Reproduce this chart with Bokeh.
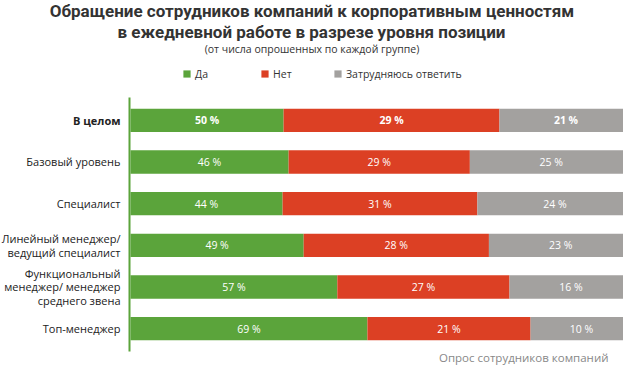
from bokeh.plotting import figure
from bokeh.models import ColumnDataSource, Range1d, Legend, LegendItem
from bokeh.core.properties import value
from bokeh.embed import file_html
from bokeh.resources import INLINE

# ---------------- data ----------------
categories = ["В целом", "Базовый уровень", "Специалист",
              "Линейный менеджер/\nведущий специалист",
              "Функциональный\nменеджер/ менеджер\nсреднего звена",
              "Топ-менеджер"]
series = ["Да", "Нет", "Затрудняюсь ответить"]
yes_pct = [50, 46, 44, 49, 57, 69]
no_pct = [29, 29, 31, 28, 27, 21]
unsure_pct = [21, 25, 24, 23, 16, 10]
# segment lengths as drawn in the source picture (not proportional to the labels)
yes_len = [30.5, 31.5, 30.3, 34.5, 41.2, 47.2]
no_len = [43.0, 36.1, 38.8, 36.9, 34.3, 32.5]
unsure_len = [26.5, 32.4, 30.9, 28.6, 24.5, 20.3]

title1 = "Обращение сотрудников компаний к корпоративным ценностям"
title2 = "в ежедневной работе в разрезе уровня позиции"
subtitle = "(от числа опрошенных по каждой группе)"
source_note = "Опрос сотрудников компаний"

colors = ["#5ba43b", "#dc4024", "#a3a19f"]
FONT = "Open Sans"
TFONT = "Roboto"

W, H = 623, 365
PXU = 5.02      # pixels per bar unit
X0 = 130        # pixel column of bar start
ROW = 41.67     # pixels per row
Y0 = 119.8      # pixel row of first category centre


def dx(px):
    return (px - X0) / PXU


def dy(py):
    return (py - Y0) / ROW


# ---------------- figure ----------------
p = figure(width=W, height=H, output_backend="svg", toolbar_location=None,
           x_range=Range1d(dx(0), dx(W)), y_range=Range1d(dy(H), dy(0)),
           min_border=0)
p.outline_line_color = None
p.xgrid.visible = False
p.ygrid.visible = False
p.xaxis.visible = False
p.yaxis.visible = False

rows = list(range(len(categories)))
right_yes = list(yes_len)
right_no = [a + b for a, b in zip(yes_len, no_len)]
right_un = [a + b + c for a, b, c in zip(yes_len, no_len, unsure_len)]

src = ColumnDataSource(dict(y=rows, z=[0] * len(rows), ry=right_yes,
                            rn=right_no, ru=right_un))
BH = 0.56
r_yes = p.hbar(y="y", left="z", right="ry", height=BH, source=src,
               fill_color=colors[0], line_color=None)
r_no = p.hbar(y="y", left="ry", right="rn", height=BH, source=src,
              fill_color=colors[1], line_color=None)
r_un = p.hbar(y="y", left="rn", right="ru", height=BH, source=src,
              fill_color=colors[2], line_color=None)

# vertical axis line
p.segment(x0=[dx(129)], y0=[-0.55], x1=[dx(129)], y1=[5.55],
          line_color=colors[0], line_width=2)

# value labels
lx, ly, lt, ls = [], [], [], []
for i in rows:
    segs = [(0, right_yes[i], yes_pct[i]),
            (right_yes[i], right_no[i], no_pct[i]),
            (right_no[i], right_un[i], unsure_pct[i])]
    for a, b, v in segs:
        lx.append((a + b) / 2)
        ly.append(i)
        lt.append(f"{v} %")
        ls.append("bold" if i == 0 else "normal")
lsrc = ColumnDataSource(dict(x=lx, y=ly, t=lt, s=ls))
p.text(x="x", y="y", text="t", source=lsrc, text_color="white",
       text_font=value(FONT), text_font_size="10.5px", text_font_style="s",
       text_align="center", text_baseline="middle")

# category labels
csrc = ColumnDataSource(dict(x=[dx(120)] * len(rows), y=rows, t=categories,
                             s=["bold"] + ["normal"] * (len(rows) - 1)))
p.text(x="x", y="y", text="t", source=csrc, text_color="#222222",
       text_font=value(FONT), text_font_size="11px", text_font_style="s",
       text_align="right", text_baseline="middle", text_line_height=0.9)

# titles
p.text(x=[dx(311.5)], y=[dy(10)], text=[title1], text_color="#333333",
       text_font=value(TFONT), text_font_size="17px", text_font_style="bold",
       text_align="center", text_baseline="middle")
p.text(x=[dx(311)], y=[dy(31)], text=[title2], text_color="#333333",
       text_font=value(TFONT), text_font_size="17px", text_font_style="bold",
       text_align="center", text_baseline="middle")
p.text(x=[dx(311.5)], y=[dy(48)], text=[subtitle], text_color="#333333",
       text_font=value(FONT), text_font_size="10.5px",
       text_align="center", text_baseline="middle")
p.text(x=[dx(608)], y=[dy(357)], text=[source_note], text_color="#888888",
       text_font=value(FONT), text_font_size="11.5px",
       text_align="right", text_baseline="middle")

# legends (one per item for exact placement)
for rend, name, lxp in zip([r_yes, r_no, r_un], series, [182, 260, 333]):
    lg = Legend(items=[LegendItem(label=name, renderers=[rend])],
                location=(lxp, H - 80.5), orientation="horizontal",
                padding=0, margin=0, border_line_color=None,
                background_fill_alpha=0, glyph_width=9, glyph_height=9,
                label_standoff=4, label_height=9, spacing=0,
                label_text_font=FONT, label_text_font_size="10.5px",
                label_text_color="#333333")
    p.add_layout(lg, "center")

open("out.html", "w").write(file_html(p, INLINE))
